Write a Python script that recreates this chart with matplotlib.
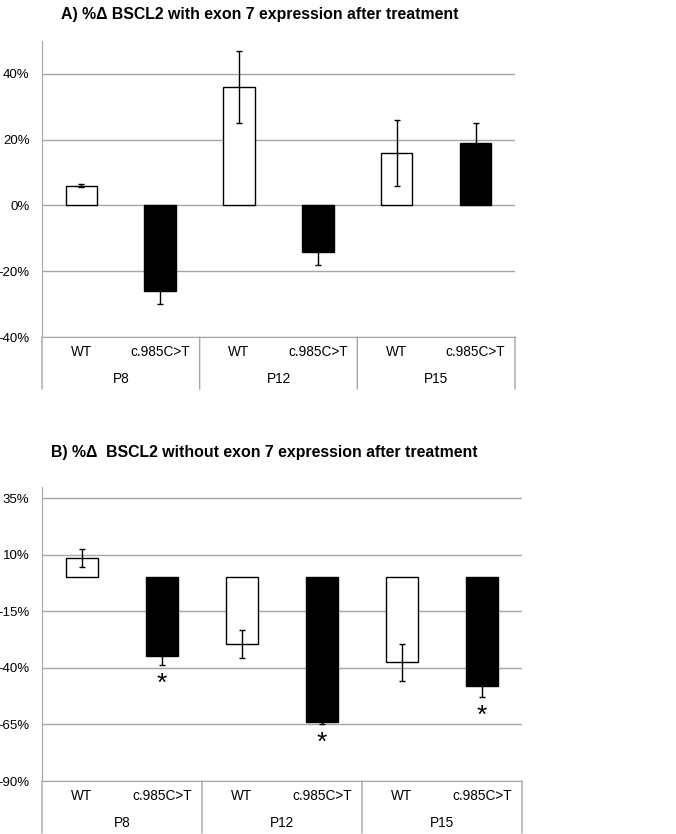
import matplotlib
matplotlib.use("Agg")
import matplotlib.pyplot as plt
from matplotlib.ticker import FuncFormatter

plt.rcParams['font.family'] = ['Liberation Sans', 'DejaVu Sans']

groups = ['P8', 'P12', 'P15']
genotypes = ['WT', 'c.985C>T']

# panel A: % change, BSCL2 with exon 7
a_vals = [6, -26, 36, -14, 16, 19]
a_err = [0.5, 4, 11, 4, 10, 6]
# panel B: % change, BSCL2 without exon 7
b_vals = [8.7, -34.7, -29.5, -63.8, -37.6, -47.8]
b_err = [4, 4, 6, 1, 8, 5]
b_sig = [False, True, False, True, False, True]

bar_colors = ['white', 'black'] * 3
grid_c = '#a6a6a6'


def draw_panel(ax, vals, err, ylim, ticks, sig=None):
    x = list(range(len(vals)))
    ax.bar(x, vals, width=0.4, color=bar_colors, edgecolor='black', linewidth=1, zorder=3)
    ax.errorbar(x, vals, yerr=err, fmt='none', ecolor='black', elinewidth=1,
                capsize=2.5, capthick=1, zorder=4)
    ax.set_xlim(-0.5, len(vals) - 0.5)
    ax.set_ylim(*ylim)
    ax.set_yticks(ticks)
    ax.yaxis.set_major_formatter(FuncFormatter(lambda v, p: '%d%%' % v))
    ax.tick_params(axis='y', length=0, labelsize=9.5, pad=9)
    ax.set_xticks([])
    ax.grid(axis='y', color=grid_c, linewidth=1, zorder=0)
    for s in ['top', 'right']:
        ax.spines[s].set_visible(False)
    ax.spines['left'].set_color(grid_c)
    ax.spines['bottom'].set_color(grid_c)

    # category axis below the plot
    for d in [-0.5, 1.5, 3.5, 5.5]:
        ax.annotate('', xy=(d, 0), xycoords=('data', 'axes fraction'),
                    xytext=(0, -37.5), textcoords='offset points',
                    arrowprops=dict(arrowstyle='-', color=grid_c, lw=1,
                                    shrinkA=0, shrinkB=0))
    for i in x:
        ax.annotate(genotypes[i % 2], xy=(i, 0), xycoords=('data', 'axes fraction'),
                    xytext=(0, -11), textcoords='offset points',
                    ha='center', va='center', fontsize=9.8)
    for g, name in enumerate(groups):
        ax.annotate(name, xy=(2 * g + 0.5, 0), xycoords=('data', 'axes fraction'),
                    xytext=(0, -30), textcoords='offset points',
                    ha='center', va='center', fontsize=9.8)

    if sig is not None:
        for i in x:
            if sig[i]:
                ax.annotate('*', xy=(i, vals[i] - err[i]), xytext=(0, -5),
                            textcoords='offset points', ha='center', va='top',
                            fontsize=19)


fig = plt.figure(figsize=(6.76, 8.34), dpi=100)
ax1 = fig.add_axes([0.0621, 0.5959, 0.6997, 0.3549])
ax2 = fig.add_axes([0.0621, 0.0635, 0.7101, 0.3529])

draw_panel(ax1, a_vals, a_err, (-40, 50), [-40, -20, 0, 20, 40])
draw_panel(ax2, b_vals, b_err, (-90, 40), [-90, -65, -40, -15, 10, 35], sig=b_sig)

fig.text(260 / 676, 1 - 15 / 834, 'A) %\u0394 BSCL2 with exon 7 expression after treatment',
         ha='center', va='center', fontsize=11.4, fontweight='bold')
fig.text(264 / 676, 1 - 453 / 834, 'B) %\u0394  BSCL2 without exon 7 expression after treatment',
         ha='center', va='center', fontsize=11.4, fontweight='bold')

fig.savefig('out.png', dpi=100, facecolor='white')
